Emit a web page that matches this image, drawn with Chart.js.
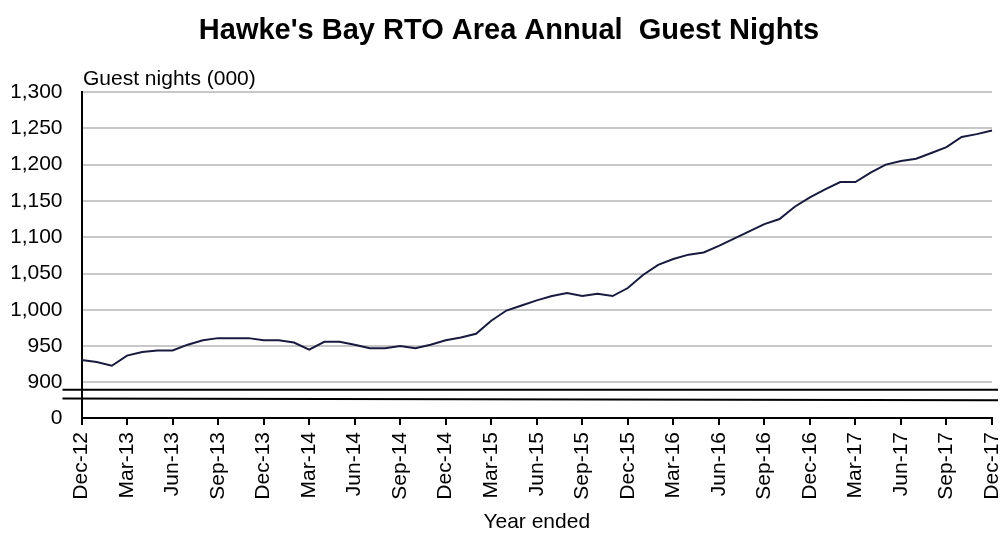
<!DOCTYPE html>
<html>
<head>
<meta charset="utf-8">
<script src="https://cdn.jsdelivr.net/npm/chart.js@4"></script>
<style>
html,body{margin:0;padding:0;background:#fff;}
canvas{display:block;}
</style>
</head>
<body>
<canvas id="c" width="1006" height="539"></canvas>
<script>
const months = ['Dec-12','Jan-13','Feb-13','Mar-13','Apr-13','May-13','Jun-13','Jul-13','Aug-13','Sep-13','Oct-13','Nov-13',
'Dec-13','Jan-14','Feb-14','Mar-14','Apr-14','May-14','Jun-14','Jul-14','Aug-14','Sep-14','Oct-14','Nov-14',
'Dec-14','Jan-15','Feb-15','Mar-15','Apr-15','May-15','Jun-15','Jul-15','Aug-15','Sep-15','Oct-15','Nov-15',
'Dec-15','Jan-16','Feb-16','Mar-16','Apr-16','May-16','Jun-16','Jul-16','Aug-16','Sep-16','Oct-16','Nov-16',
'Dec-16','Jan-17','Feb-17','Mar-17','Apr-17','May-17','Jun-17','Jul-17','Aug-17','Sep-17','Oct-17','Nov-17',
'Dec-17'];
const guestNights = [931,928,923,937,942,944,944,952,958,961,961,961,
958,958,955,945,956,956,952,947,947,950,947,952,
958,962,967,985,999,1006,1013,1019,1023,1019,1022,1019,
1030,1048,1062,1070,1076,1079,1088,1098,1108,1118,1125,1142,
1155,1166,1176,1176,1189,1200,1205,1208,1216,1224,1238,1242,
1247];
const yTicks = [851,900,950,1000,1050,1100,1150,1200,1250,1300];
const yTickLabels = ['0','900','950','1,000','1,050','1,100','1,150','1,200','1,250','1,300'];
const breakValues = [890, 878, 875.6];

const FONT = "'Liberation Sans', Arial, sans-serif";

const extras = {
  id: 'extras',
  afterDraw(chart) {
    const ctx = chart.ctx, y = chart.scales.y, a = chart.chartArea;
    ctx.save();
    ctx.strokeStyle = '#000';
    ctx.lineWidth = 2;
    ctx.beginPath();
    ctx.moveTo(62.5, y.getPixelForValue(breakValues[0]));
    ctx.lineTo(a.right + 6, y.getPixelForValue(breakValues[0]));
    ctx.moveTo(62.5, y.getPixelForValue(breakValues[1]));
    ctx.lineTo(a.right + 6, y.getPixelForValue(breakValues[2]));
    ctx.stroke();
    ctx.fillStyle = '#000';
    ctx.font = "21px " + FONT;
    ctx.textAlign = 'left';
    ctx.textBaseline = 'alphabetic';
    ctx.fillText('Guest nights (000)', 83, 85);
    ctx.restore();
  }
};

new Chart(document.getElementById('c'), {
  type: 'line',
  data: {
    labels: months,
    datasets: [{
      data: guestNights,
      borderColor: '#181a3e',
      borderWidth: 2,
      pointRadius: 0,
      tension: 0,
      fill: false
    }]
  },
  options: {
    responsive: false,
    animation: false,
    layout: { padding: { left: 12, right: 0, top: 0, bottom: 0 } },
    plugins: {
      legend: { display: false },
      tooltip: { enabled: false },
      title: {
        display: true,
        text: "Hawke's Bay RTO Area Annual  Guest Nights",
        color: '#000',
        font: { family: FONT, size: 29, weight: 'bold', lineHeight: 1.2 },
        padding: { top: 14, bottom: 43.2 }
      }
    },
    scales: {
      x: {
        type: 'category',
        offset: false,
        afterFit: s => { s.height = 121; s.paddingLeft = 0; s.paddingRight = 0; },
        grid: { display: true, drawOnChartArea: false, drawTicks: true, tickLength: 7, color: '#000', lineWidth: 2 },
        border: { display: true, color: '#000', width: 2 },
        ticks: {
          autoSkip: false,
          maxRotation: 90,
          minRotation: 90,
          padding: 7,
          color: '#000',
          font: { family: FONT, size: 21 },
          callback: function(v, i) { return i % 3 === 0 ? months[i] : null; }
        },
        title: {
          display: true,
          text: 'Year ended',
          color: '#000',
          font: { family: FONT, size: 21 },
          padding: { top: 0, bottom: 4 }
        }
      },
      y: {
        type: 'linear',
        min: 851,
        max: 1300,
        afterFit: s => { s.width = 69.5; s.paddingTop = 0; s.paddingBottom = 0; },
        afterBuildTicks: s => { s.ticks = yTicks.map(v => ({ value: v })); },
        grid: {
          drawTicks: false,
          color: c => (c.tick && c.tick.value === 851) ? 'rgba(0,0,0,0)' : '#c8c8c8',
          lineWidth: 2
        },
        border: { display: true, color: '#000', width: 2 },
        ticks: {
          padding: 19,
          color: '#000',
          font: { family: FONT, size: 21 },
          callback: function(v) { const i = yTicks.indexOf(v); return i >= 0 ? yTickLabels[i] : null; }
        }
      },
      y2: {
        type: 'linear',
        position: 'right',
        display: true,
        afterFit: s => { s.width = 14; s.paddingTop = 0; s.paddingBottom = 0; },
        grid: { display: false, drawTicks: false },
        border: { display: false },
        ticks: { display: false }
      }
    }
  },
  plugins: [extras]
});
</script>
</body>
</html>
